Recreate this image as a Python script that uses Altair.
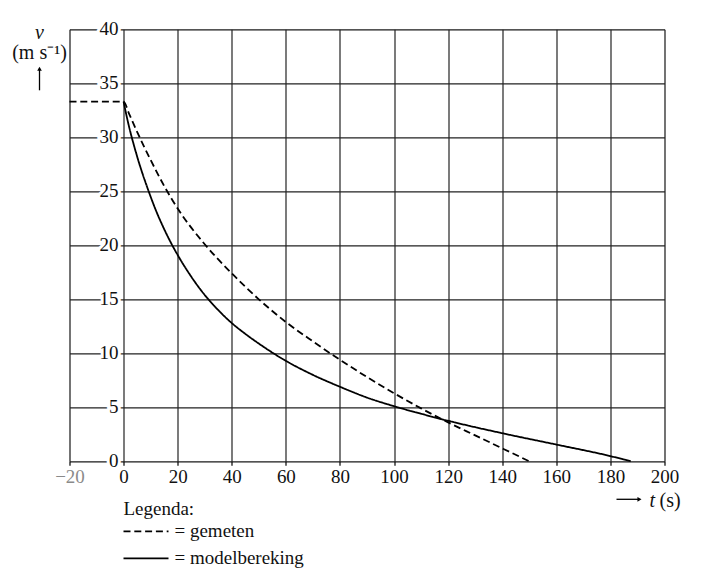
import altair as alt
import pandas as pd

# gemeten snelheid (gestippelde lijn)
gemeten_t = [-20, 0, 2, 5, 10, 15, 20, 30, 40, 50, 60, 70, 80, 90, 100, 110, 120, 130, 140, 150]
gemeten_v = [33.3, 33.3, 32.2, 30.5, 27.9, 25.5, 23.4, 20.1, 17.4, 15.0, 12.9, 11.1, 9.4, 7.8, 6.3, 4.9, 3.6, 2.4, 1.2, 0.0]

# modelbereking (doorgetrokken lijn)
model_t = [0, 1, 2, 4, 6, 8, 10, 12, 15, 18, 20, 25, 30, 35, 40, 45, 50, 60, 70, 80, 90, 100, 110, 120, 140, 160, 180, 187.5]
model_v = [33.3, 32.1, 31.0, 29.1, 27.4, 25.9, 24.5, 23.2, 21.5, 20.0, 19.1, 17.1, 15.4, 14.0, 12.8, 11.8, 10.9, 9.3, 8.0, 6.9, 5.9, 5.1, 4.4, 3.75, 2.6, 1.55, 0.48, 0.0]

series = ["gemeten", "modelbereking"]
x_ticks = [-20, 0, 20, 40, 60, 80, 100, 120, 140, 160, 180, 200]
y_ticks = [0, 5, 10, 15, 20, 25, 30, 35, 40]

SERIF = "Liberation Serif"
FS = 19
W, H = 595, 432
DASHES = [[7, 3.8], [1, 0]]

lines = pd.concat([
    pd.DataFrame({"t": gemeten_t, "v": gemeten_v, "reeks": series[0]}),
    pd.DataFrame({"t": model_t, "v": model_v, "reeks": series[1]}),
])

x_scale = alt.Scale(domain=[-20, 200], nice=False, zero=False)
y_scale = alt.Scale(domain=[0, 40], nice=False)

curves = alt.Chart(lines).mark_line(
    color="black", strokeWidth=1.8, interpolate="monotone"
).encode(
    x=alt.X("t:Q", scale=x_scale, axis=alt.Axis(
        values=x_ticks, title=None, grid=True, domain=False,
        tickSize=4, tickColor="black", tickWidth=1.2,
        labelFont=SERIF, labelFontSize=FS, labelPadding=2, labelFlush=False,
        labelColor=alt.expr("datum.value === -20 ? '#8a8a8a' : '#111'"),
        gridColor="#222", gridWidth=1.2, gridOpacity=1,
    )),
    y=alt.Y("v:Q", scale=y_scale, axis=alt.Axis(
        values=y_ticks, title=None, grid=True, domain=False,
        labels=False, ticks=False,
        gridColor="#222", gridWidth=1.2, gridOpacity=1,
    )),
    strokeDash=alt.StrokeDash("reeks:N", scale=alt.Scale(domain=series, range=DASHES), legend=None),
)

# y-labels sit on the t = 0 line with a white halo over the grid
ylab = pd.DataFrame({"t": [0] * len(y_ticks), "v": y_ticks})
ylab_halo = alt.Chart(ylab).mark_text(
    align="right", baseline="middle", dx=-5, font=SERIF, fontSize=FS,
    fill="white", stroke="white", strokeWidth=6,
).encode(x=alt.X("t:Q", scale=x_scale), y=alt.Y("v:Q", scale=y_scale), text="v:Q")
ylab_text = alt.Chart(ylab).mark_text(
    align="right", baseline="middle", dx=-5, font=SERIF, fontSize=FS, color="#111",
).encode(x=alt.X("t:Q", scale=x_scale), y=alt.Y("v:Q", scale=y_scale), text="v:Q")

one = pd.DataFrame({"a": [0]})


def label(text, x, y, size=FS, italic=False, align="left", baseline="alphabetic"):
    return alt.Chart(one).mark_text(
        font=SERIF, fontSize=size, fontStyle="italic" if italic else "normal",
        align=align, baseline=baseline, color="#111",
    ).encode(x=alt.value(x), y=alt.value(y), text=alt.value(text))


# y-as titel met pijl
v_label = label("v", -30, 4, size=20, italic=True, align="center", baseline="middle")
unit_label = label("(m s⁻¹)", -30, 24, size=20, align="center", baseline="middle")
up_shaft = alt.Chart(one).mark_rule(color="black", strokeWidth=1.3).encode(
    x=alt.value(-30), y=alt.value(61), y2=alt.value(40))
up_head = alt.Chart(one).mark_point(
    shape="triangle-up", filled=True, color="black", size=22, opacity=1
).encode(x=alt.value(-30), y=alt.value(39.5))

# x-as titel met pijl
right_shaft = alt.Chart(one).mark_rule(color="black", strokeWidth=1.3).encode(
    x=alt.value(547), x2=alt.value(569), y=alt.value(H + 38))
right_head = alt.Chart(one).mark_point(
    shape="triangle-right", filled=True, color="black", size=22, opacity=1
).encode(x=alt.value(570), y=alt.value(H + 38))
t_label = label("t", 580, H + 46, size=20, italic=True)
s_label = label("(s)", 590, H + 46, size=20)

# legenda
leg_title = label("Legenda:", 54, H + 54)
leg_rows = []
for i, name in enumerate(series):
    yy = H + 70 + 27 * i
    leg_rows.append(alt.Chart(one).mark_rule(
        color="black", strokeWidth=1.7, strokeDash=DASHES[i]
    ).encode(x=alt.value(54), x2=alt.value(99), y=alt.value(yy)))
    leg_rows.append(label("= " + name, 105, yy, baseline="middle"))

chart = alt.layer(
    curves, ylab_halo, ylab_text,
    v_label, unit_label, up_shaft, up_head,
    right_shaft, right_head, t_label, s_label,
    leg_title, *leg_rows,
).properties(
    width=W, height=H,
    autosize=alt.AutoSizeParams(type="none"),
    padding={"left": 61.5, "top": 21.3, "right": 29.5, "bottom": 108},
).configure_view(
    stroke="black", strokeWidth=1.2
).configure(background="white")

chart.save("out.html", embed_options={"renderer": "svg", "actions": False})
